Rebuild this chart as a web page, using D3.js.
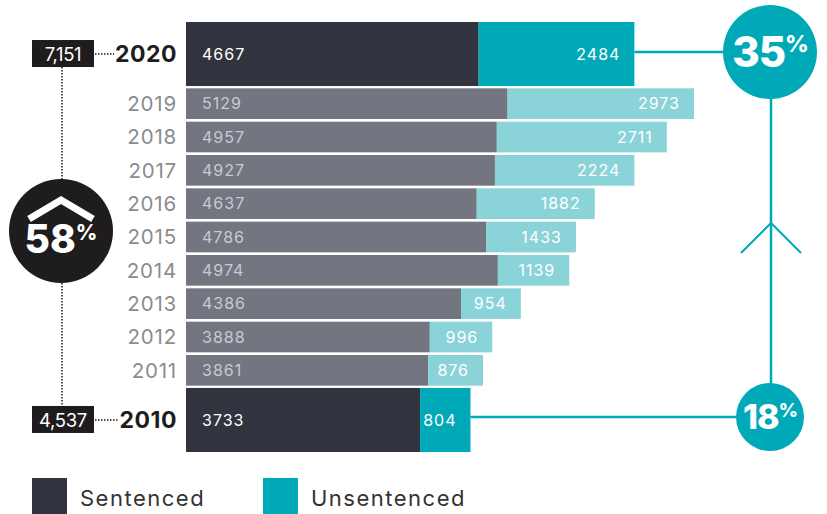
<!DOCTYPE html>
<html>
<head>
<meta charset="utf-8">
<script src="https://cdn.jsdelivr.net/npm/d3@7"></script>
<style>
  body { margin: 0; background: #fff; }
  svg { font-family: "Inter", "Open Sans", sans-serif; }
</style>
</head>
<body>
<div class="chart"></div>
<script>
// data, newest first
var years = [2020, 2019, 2018, 2017, 2016, 2015, 2014, 2013, 2012, 2011, 2010]
var sentenced = [4667, 5129, 4957, 4927, 4637, 4786, 4974, 4386, 3888, 3861, 3733]
var unsentenced = [2484, 2973, 2711, 2224, 1882, 1433, 1139, 954, 996, 876, 804]
var totalLabels = ['7,151', '4,537']   // 2020, 2010
var growthTotal = '58'
var shareLabels = ['35', '18']         // unsentenced share 2020, 2010
var legendLabels = ['Sentenced', 'Unsentenced']

var W = 827, H = 514
var dark = '#31343e', grey = '#737580', teal = '#00a9b7', lightTeal = '#8ad3d9', ink = '#1e1c1c'

var svg = d3.select('.chart').append('svg')
    .attr('width', W)
    .attr('height', H)
    .attr('viewBox', [0, 0, W, H])

var rows = years.map((y, i) => ({year: y, s: sentenced[i], u: unsentenced[i], big: (y == 2020 || y == 2010)}))
var midYears = years.filter(y => y != 2020 && y != 2010)

var x = d3.scaleLinear().domain([0, d3.max(rows, d => d.s + d.u)]).range([186, 694])
var yMid = d3.scaleBand().domain(midYears).range([87, 387]).paddingInner(0.08).paddingOuter(0.04)
var yBig = d3.scaleBand().domain([2020, 2010]).range([22, 452]).paddingInner(0.825)

function rowY(d) { return d.big ? yBig(d.year) : yMid(d.year) }
function rowH(d) { return d.big ? yBig.bandwidth() : yMid.bandwidth() }
function rowC(d) { return rowY(d) + rowH(d) / 2 }

var g = svg.selectAll('g.row')
    .data(rows)
    .enter()
    .append('g')
    .attr('class', 'row')

g.append('rect')
    .attr('x', x(0))
    .attr('y', rowY)
    .attr('width', d => x(d.s) - x(0))
    .attr('height', rowH)
    .style('fill', d => d.big ? dark : grey)

g.append('rect')
    .attr('x', d => x(d.s))
    .attr('y', rowY)
    .attr('width', d => x(d.s + d.u) - x(d.s))
    .attr('height', rowH)
    .style('fill', d => d.big ? teal : lightTeal)

g.append('text')
    .attr('x', x(0) + 16)
    .attr('y', rowC)
    .attr('dy', '0.36em')
    .style('font-size', '16px')
    .style('letter-spacing', '1px')
    .style('fill', d => d.big ? '#fff' : '#c9cacf')
    .text(d => d.s)

g.append('text')
    .attr('x', d => x(d.s + d.u) - 14)
    .attr('y', rowC)
    .attr('dy', '0.36em')
    .attr('text-anchor', 'end')
    .style('font-size', '16px')
    .style('letter-spacing', '1px')
    .style('fill', '#fff')
    .text(d => d.u)

// year labels
g.append('text')
    .attr('x', 177)
    .attr('y', rowC)
    .attr('dy', '0.36em')
    .attr('text-anchor', 'end')
    .style('font-size', d => d.big ? '23px' : '20.5px')
    .style('letter-spacing', d => d.big ? '0.5px' : '0.8px')
    .style('font-weight', d => d.big ? 700 : 400)
    .style('fill', d => d.big ? ink : '#8c8c8c')
    .text(d => d.year)

// left side: totals + growth circle
var first = rows[0], last = rows[rows.length - 1]
var lx = 62
var boxes = [{r: first, t: totalLabels[0]}, {r: last, t: totalLabels[1]}]

svg.selectAll('line.dotH')
    .data(boxes)
    .enter()
    .append('line')
    .attr('x1', 95).attr('x2', d => d.r.year == 2020 ? 114 : 119)
    .attr('y1', d => rowC(d.r)).attr('y2', d => rowC(d.r))
    .style('stroke', ink)
    .style('stroke-width', 1.5)
    .style('stroke-dasharray', '1.5,1.5')

var circY = 231, circR = 52
svg.append('line')
    .attr('x1', lx).attr('x2', lx)
    .attr('y1', rowC(first) + 13).attr('y2', circY - circR)
    .style('stroke', ink).style('stroke-width', 1.5).style('stroke-dasharray', '1.5,1.5')
svg.append('line')
    .attr('x1', lx).attr('x2', lx)
    .attr('y1', circY + circR).attr('y2', rowC(last) - 13)
    .style('stroke', ink).style('stroke-width', 1.5).style('stroke-dasharray', '1.5,1.5')

svg.selectAll('rect.tot')
    .data(boxes)
    .enter()
    .append('rect')
    .attr('x', 32)
    .attr('y', d => rowC(d.r) - 14)
    .attr('width', 62)
    .attr('height', 27)
    .style('fill', ink)

svg.selectAll('text.tot')
    .data(boxes)
    .enter()
    .append('text')
    .attr('x', 63)
    .attr('y', d => rowC(d.r))
    .attr('dy', '0.36em')
    .attr('text-anchor', 'middle')
    .style('font-size', '18.5px')
    .style('letter-spacing', '-0.3px')
    .style('fill', '#fff')
    .text(d => d.t)

svg.append('circle')
    .attr('cx', lx - 1).attr('cy', circY).attr('r', circR)
    .style('fill', ink)

svg.append('path')
    .attr('d', d3.line()([[lx - 33, circY - 12], [lx - 1, circY - 31], [lx + 31, circY - 12]]))
    .style('fill', 'none')
    .style('stroke', '#fff')
    .style('stroke-width', 7)
    .style('stroke-linejoin', 'miter')

var pct = svg.append('text')
    .attr('x', lx - 1)
    .attr('y', circY + 22)
    .attr('text-anchor', 'middle')
    .style('fill', '#fff')
    .style('font-weight', 800)
pct.append('tspan').style('font-size', '39px').text(growthTotal)
pct.append('tspan').style('font-size', '21px').attr('dy', -13).text('%')

// right side: share circles
var rx = 771
var shares = [
    {r: first, t: shareLabels[0], cy: 52, rad: 47, fs: 42},
    {r: last, t: shareLabels[1], cy: 417, rad: 34, fs: 34}
]

svg.selectAll('line.share')
    .data(shares)
    .enter()
    .append('line')
    .attr('x1', d => x(d.r.s + d.r.u))
    .attr('x2', rx)
    .attr('y1', d => d.cy).attr('y2', d => d.cy)
    .style('stroke', teal).style('stroke-width', 2.5)

svg.append('line')
    .attr('x1', rx).attr('x2', rx)
    .attr('y1', shares[0].cy).attr('y2', shares[1].cy)
    .style('stroke', teal).style('stroke-width', 2.5)

svg.append('path')
    .attr('d', d3.line()([[rx - 30, 253], [rx, 223], [rx + 30, 253]]))
    .style('fill', 'none')
    .style('stroke', teal)
    .style('stroke-width', 2)

svg.selectAll('circle.share')
    .data(shares)
    .enter()
    .append('circle')
    .attr('cx', rx - 1).attr('cy', d => d.cy).attr('r', d => d.rad)
    .style('fill', teal)

var st = svg.selectAll('text.share')
    .data(shares)
    .enter()
    .append('text')
    .attr('x', rx - 1)
    .attr('y', d => d.cy + d.fs * 0.36)
    .attr('text-anchor', 'middle')
    .style('fill', '#fff')
    .style('font-weight', 800)
    .style('letter-spacing', '-1px')
st.append('tspan').style('font-size', d => d.fs + 'px').text(d => d.t)
st.append('tspan').style('font-size', d => (d.fs * 0.55) + 'px').attr('dy', d => -d.fs * 0.35).text('%')

// legend
var leg = svg.selectAll('g.leg')
    .data(legendLabels)
    .enter()
    .append('g')
    .attr('transform', (d, i) => 'translate(' + (32 + i * 231) + ',478)')

leg.append('rect')
    .attr('width', 35).attr('height', 36)
    .style('fill', (d, i) => i == 0 ? dark : teal)

leg.append('text')
    .attr('x', 48).attr('y', 20)
    .attr('dy', '0.36em')
    .style('font-size', '22px')
    .style('letter-spacing', '1.5px')
    .style('fill', '#333')
    .text(d => d)
</script>
</body>
</html>
